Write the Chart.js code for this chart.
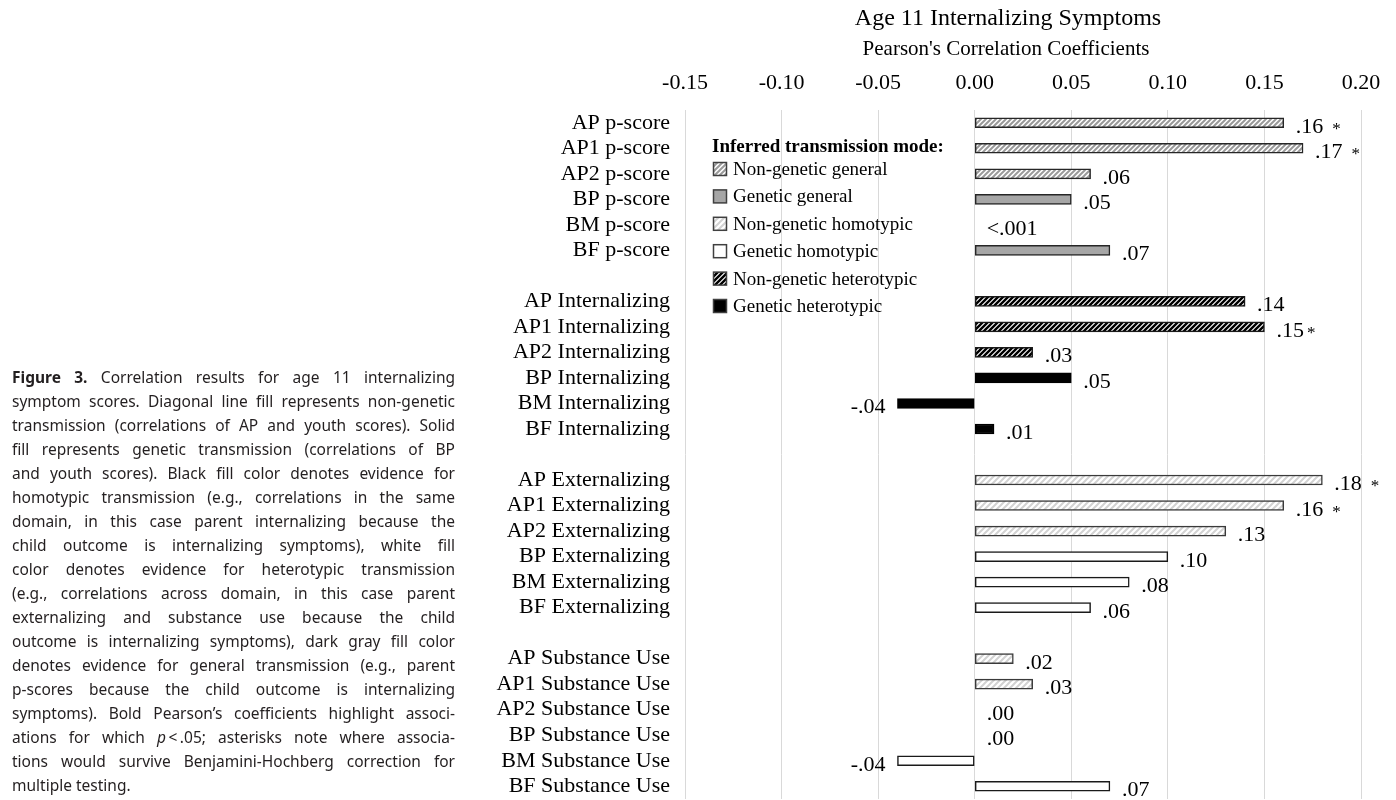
<!DOCTYPE html>
<html>
<head>
<meta charset="utf-8">
<title>Age 11 Internalizing Symptoms</title>
<script src="https://cdn.jsdelivr.net/npm/chart.js@4.4.1/dist/chart.umd.min.js"></script>
<style>
  html, body { margin: 0; padding: 0; background: #fff; width: 1396px; height: 800px; overflow: hidden; }
  #wrap { position: absolute; left: 0; top: 0; width: 1396px; height: 800px; }
  #chart { position: absolute; left: 0; top: 0; }
  #caption {
    position: absolute; left: 12px; top: 365px; width: 443px;
    font-family: "Noto Sans", "Open Sans", sans-serif; font-size: 15px; line-height: 24px; color: #231f20;
  }
  #caption div { text-align: justify; text-align-last: justify; }
  #caption div.last { text-align-last: left; }
</style>
</head>
<body>
<div id="wrap">
  <canvas id="chart" width="1396" height="800"></canvas>
  <div id="caption"></div>
</div>
<script>
// Rows of the chart; empty strings are spacer rows between parent measures.
const categories = [
  'AP p-score', 'AP1 p-score', 'AP2 p-score', 'BP p-score', 'BM p-score', 'BF p-score', '',
  'AP Internalizing', 'AP1 Internalizing', 'AP2 Internalizing', 'BP Internalizing', 'BM Internalizing', 'BF Internalizing', '',
  'AP Externalizing', 'AP1 Externalizing', 'AP2 Externalizing', 'BP Externalizing', 'BM Externalizing', 'BF Externalizing', '',
  'AP Substance Use', 'AP1 Substance Use', 'AP2 Substance Use', 'BP Substance Use', 'BM Substance Use', 'BF Substance Use'
];

// Pearson's r with age 11 internalizing symptoms (null = spacer row).
const correlations = [
  0.16, 0.17, 0.06, 0.05, 0.00, 0.07, null,
  0.14, 0.15, 0.03, 0.05, -0.04, 0.01, null,
  0.18, 0.16, 0.13, 0.10, 0.08, 0.06, null,
  0.02, 0.03, 0.00, 0.00, -0.04, 0.07
];

// Inferred transmission mode for each row (index into modeNames).
const modeNames = [
  'Non-genetic general', 'Genetic general', 'Non-genetic homotypic',
  'Genetic homotypic', 'Non-genetic heterotypic', 'Genetic heterotypic'
];
const transmissionModes = [
  0, 0, 0, 1, 1, 1, null,
  4, 4, 4, 5, 5, 5, null,
  2, 2, 2, 3, 3, 3, null,
  2, 2, 2, 3, 3, 3
];

// Rows whose association survives Benjamini-Hochberg correction.
const bhSignificant = ['AP p-score', 'AP1 p-score', 'AP1 Internalizing', 'AP Externalizing', 'AP1 Externalizing'];
// Rows whose correlation is reported as below .001.
const belowThousandth = ['BM p-score'];

// Axis tick settings.
const xMin = -0.15, xMax = 0.20, xStep = 0.05;

const chartTitle = 'Age 11 Internalizing Symptoms';
const axisTitle = "Pearson's Correlation Coefficients";
const legendTitle = 'Inferred transmission mode:';

const captionLines = [
  '<b>Figure 3.</b> Correlation results for age 11 internalizing',
  'symptom scores. Diagonal line fill represents non-genetic',
  'transmission (correlations of AP and youth scores). Solid',
  'fill represents genetic transmission (correlations of BP',
  'and youth scores). Black fill color denotes evidence for',
  'homotypic transmission (e.g., correlations in the same',
  'domain, in this case parent internalizing because the',
  'child outcome is internalizing symptoms), white fill',
  'color denotes evidence for heterotypic transmission',
  '(e.g., correlations across domain, in this case parent',
  'externalizing and substance use because the child',
  'outcome is internalizing symptoms), dark gray fill color',
  'denotes evidence for general transmission (e.g., parent',
  'p-scores because the child outcome is internalizing',
  'symptoms). Bold Pearson\u2019s coefficients highlight associ-',
  'ations for which <i>p</i>\u2009&lt;\u2009.05; asterisks note where associa-',
  'tions would survive Benjamini-Hochberg correction for',
  'multiple testing.'
];

// ---- caption ----
const cap = document.getElementById('caption');
captionLines.forEach((html, i) => {
  const d = document.createElement('div');
  d.innerHTML = html;
  if (i === captionLines.length - 1) d.className = 'last';
  cap.appendChild(d);
});
(function fitCaption() {
  let fs = 15.5;
  const fits = () => Array.from(cap.children).every(d => d.getBoundingClientRect().height < 30);
  cap.style.fontSize = fs + 'px';
  while (!fits() && fs > 11) { fs -= 0.25; cap.style.fontSize = fs + 'px'; }
})();

// ---- chart ----
const SERIF = '"Liberation Serif", "Times New Roman", serif';
const canvas = document.getElementById('chart');
const ctx2d = canvas.getContext('2d');

function hatch(bg, fg, size, lw) {
  const c = document.createElement('canvas');
  c.width = c.height = size;
  const g = c.getContext('2d');
  g.fillStyle = bg;
  g.fillRect(0, 0, size, size);
  g.strokeStyle = fg;
  g.lineWidth = lw;
  g.beginPath();
  g.moveTo(-1, size + 1); g.lineTo(size + 1, -1);
  g.moveTo(-1, 1); g.lineTo(1, -1);
  g.moveTo(size - 1, size + 1); g.lineTo(size + 1, size - 1);
  g.stroke();
  return ctx2d.createPattern(c, 'repeat');
}

const modeFills = [
  hatch('#ffffff', '#9a9a9a', 5, 2),
  '#a6a6a6',
  hatch('#ffffff', '#d2d2d2', 6, 2),
  '#ffffff',
  hatch('#ffffff', '#000000', 5, 2.4),
  '#000000'
];
const modeBorders = ['#262626', '#262626', '#3a3a3a', '#1a1a1a', '#1a1a1a', '#000000'];

function formatR(i) {
  const v = correlations[i];
  if (belowThousandth.includes(categories[i])) return '<.001';
  const s = Math.abs(v).toFixed(2).replace(/^0/, '');
  return (v < 0 ? '-' : '') + s;
}

// Title lines above the axis, centred over the whole figure block.
const headings = {
  id: 'headings',
  afterDraw(chart) {
    const ctx = chart.ctx;
    ctx.save();
    ctx.fillStyle = '#000';
    ctx.textAlign = 'center';
    ctx.textBaseline = 'middle';
    ctx.font = '24px ' + SERIF;
    ctx.fillText(chartTitle, 1008, 19);
    ctx.font = '21px ' + SERIF;
    ctx.fillText(axisTitle, 1006, 49);
    ctx.restore();
  }
};

const valueLabels = {
  id: 'valueLabels',
  afterDatasetsDraw(chart) {
    const ctx = chart.ctx;
    const meta = chart.getDatasetMeta(0);
    ctx.save();
    ctx.fillStyle = '#000';
    ctx.textBaseline = 'alphabetic';
    meta.data.forEach((bar, i) => {
      const v = correlations[i];
      if (v === null || v === undefined) return;
      const text = formatR(i);
      const y = bar.y + 10;
      ctx.font = '22px ' + SERIF;
      if (v < 0) {
        ctx.textAlign = 'right';
        ctx.fillText(text, bar.x - 12, y);
      } else {
        ctx.textAlign = 'left';
        const x0 = bar.x + 12;
        ctx.fillText(text, x0, y);
        if (bhSignificant.includes(categories[i])) {
          const w = ctx.measureText(text).width;
          const gap = categories[i] === 'AP1 Internalizing' ? 3 : 9;
          ctx.font = '17px ' + SERIF;
          ctx.fillText('*', x0 + w + gap, y + 1);
        }
      }
    });
    ctx.restore();
  }
};

const modeLegend = {
  id: 'modeLegend',
  afterDraw(chart) {
    const ctx = chart.ctx;
    ctx.save();
    ctx.fillStyle = '#000';
    ctx.textBaseline = 'middle';
    ctx.textAlign = 'left';
    ctx.font = 'bold 19px ' + SERIF;
    ctx.fillText(legendTitle, 712, 147);
    ctx.font = '19px ' + SERIF;
    modeNames.forEach((name, k) => {
      const cy = 170 + k * 27.4;
      ctx.fillStyle = modeFills[k];
      ctx.fillRect(713.5, cy - 7.5, 13, 13);
      ctx.strokeStyle = '#404040';
      ctx.lineWidth = 1.5;
      ctx.strokeRect(713.5, cy - 7.5, 13, 13);
      ctx.fillStyle = '#000';
      ctx.fillText(name, 733, cy);
    });
    ctx.restore();
  }
};

new Chart(ctx2d, {
  type: 'bar',
  data: {
    labels: categories,
    datasets: [{
      data: correlations,
      backgroundColor: c => {
        const m = transmissionModes[c.dataIndex];
        return (m === null || !correlations[c.dataIndex]) ? 'rgba(0,0,0,0)' : modeFills[m];
      },
      borderColor: c => {
        const m = transmissionModes[c.dataIndex];
        return (m === null || !correlations[c.dataIndex]) ? 'rgba(0,0,0,0)' : modeBorders[m];
      },
      borderWidth: c => (correlations[c.dataIndex] ? 1.5 : 0),
      borderSkipped: false,
      barThickness: 10
    }]
  },
  options: {
    indexAxis: 'y',
    responsive: false,
    animation: false,
    layout: { padding: { left: 0, right: 35, top: 0, bottom: 1 } },
    plugins: {
      legend: { display: false },
      tooltip: { enabled: false },
      title: { display: false }
    },
    scales: {
      x: {
        position: 'top',
        min: xMin,
        max: xMax,
        ticks: {
          stepSize: xStep,
          color: '#000',
          padding: 14,
          font: { family: SERIF, size: 22 },
          callback: v => (Math.abs(v) < 1e-9 ? 0 : v).toFixed(2)
        },
        grid: { color: '#d9d9d9', lineWidth: 1, drawTicks: false, tickLength: 0 },
        border: { display: false },
        afterFit(scale) { scale.height = 110; }
      },
      y: {
        ticks: { color: '#000', padding: 15, autoSkip: false, font: { family: SERIF, size: 22 } },
        grid: { display: false, drawTicks: false, tickLength: 0 },
        border: { display: false },
        afterFit(scale) {
          scale.width = 685;
          scale.paddingTop = 0;
          scale.paddingBottom = 0;
        }
      }
    }
  },
  plugins: [valueLabels, modeLegend, headings]
});
</script>
</body>
</html>
